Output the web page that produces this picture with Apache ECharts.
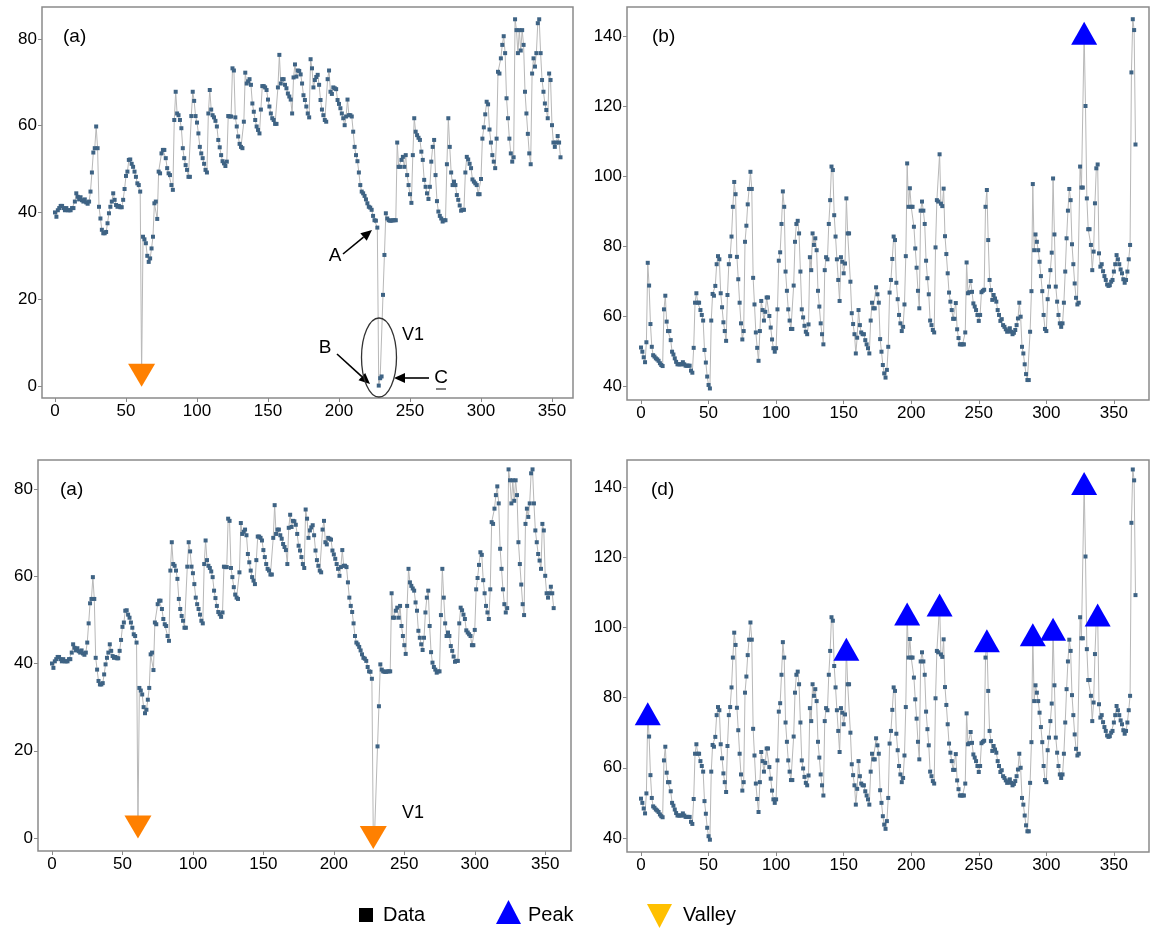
<!DOCTYPE html>
<html>
<head>
<meta charset="utf-8">
<script src="https://cdn.jsdelivr.net/npm/echarts@6/dist/echarts.min.js"></script>
<style>
    html, body { margin: 0; padding: 0; background: #fff; }
    #chart { width: 1154px; height: 929px; }
</style>
</head>
<body>
<div id="chart"></div>
<script>
// series shown in (a) panels, one value per day
var dataA = [
    40, 39, 40.5, 41, 41.5, 41.5, 41, 40.5, 41, 40.5,
    40.5, 40.5, 41, 41, 42.5, 44.4, 43.6, 43, 43.5, 42.8,
    42.5, 43, 42.3, 42, 42.5, 44.8, 49.2, 53.8, 54.8, 59.8,
    54.8, 41.3, 38.6, 36, 35.2, 35.2, 35.5, 37.5, 39.8, 41.3,
    42.5, 44.4, 42.9, 41.7, 41.3, 41.5, 41.2, 41.2, 42.9, 45.4,
    48.4, 49.4, 52.1, 52.2, 51.2, 50.5, 49.4, 48.2, 46.7, 46.3,
    44.8, 2.5, 34.4, 33.8, 32.9, 30, 28.6, 29.4, 31.7, 34.4,
    42.1, 42.5, 38.5, 49.4, 49, 53.6, 54.4, 54.4, 52.5, 50.2,
    49, 48.6, 46.3, 45.2, 61.3, 67.8, 62.8, 62.4, 61.3, 59.4,
    54.8, 52.5, 50.9, 49.8, 48.2, 48.2, 62.2, 67.8, 65.7, 62.2,
    60.7, 58.2, 55.1, 53.6, 52.5, 51.2, 49.8, 49.2, 62.8, 68.2,
    63.7, 62.4, 61.9, 61.1, 59.8, 56.7, 55, 53.2, 51.8, 51.3,
    50.7, 51.7, 62.2, 62.1, 62.1, 73.2, 72.7, 61.9, 59.8, 57.5,
    55.8, 55.1, 54.8, 60.9, 72.2, 69.7, 70.2, 70.7, 69.4, 65.1,
    63.2, 61.3, 59.8, 59, 58.2, 63.7, 69.1, 69.1, 68.8, 68.2,
    66, 64.4, 62.8, 61.7, 61.3, 60.4, 60.4, 68.8, 76.3, 69.7,
    70.7, 70.7, 69.4, 68.6, 67.4, 66.7, 66, 62.8, 71.1, 74.1,
    71.3, 72.7, 72.6, 71.8, 69.7, 67, 65.9, 64.4, 62.8, 61.9,
    75.3, 73.2, 68.8, 70.5, 71.2, 71.7, 69.4, 65.9, 63.7, 62.4,
    61.3, 60.9, 70.7, 72.7, 67.8, 67.3, 68.8, 68.6, 68.4, 65.9,
    65, 64, 62.8, 61.7, 60.1, 62.1, 66, 62.4, 62.4, 62.1,
    58.6, 55.1, 53.2, 51.8, 49.2, 46.3, 44.8, 44.4, 43.8, 43,
    42.1, 41.3, 41.1, 40.6, 39.2, 38.2, 38.1, 36.5, 0.1, 1.8,
    2.2, 21, 30.2, 39.8, 38.6, 38.2, 38.1, 38.1, 38.2, 38.2,
    38.2, 56.1, 50.5, 50.5, 52.1, 52.8, 50.5, 53.2, 48.6, 46.3,
    44.2, 42.2, 53.2, 61.7, 58.6, 57.8, 57.2, 56.7, 54, 52.1,
    47.5, 45.9, 44.4, 43.1, 45.9, 51.7, 55.1, 56.7, 48.6, 42.6,
    40.2, 39.2, 38.6, 37.9, 38.2, 38.2, 51.1, 61.7, 55.1, 49.2,
    46.3, 47.1, 46.3, 44, 42.9, 41.6, 40.4, 40.6, 40.6, 49.2,
    52.8, 52.2, 51.2, 50.2, 47.6, 47.1, 46.7, 46.3, 44.2, 44.2,
    47.7, 57, 59.6, 62.6, 65.5, 64.9, 59.1, 56.1, 53.2, 51.7,
    50.2, 57, 72.4, 72, 75.5, 78.6, 80.6, 76.7, 66.3, 61.7,
    57, 53.6, 51.7, 52.7, 84.5, 82, 76.7, 82, 77.3, 82,
    78.6, 67.8, 62.8, 58.1, 53.6, 51.1, 72, 75.5, 73.6, 76.7,
    83.6, 84.5, 76.7, 70.5, 67.8, 65.1, 63.6, 61.7, 72, 70.5,
    60.1, 56.1, 55.1, 56.1, 57.6, 56.1, 52.7
];

// series shown in (b) and (d) panels
var dataB = [
    51.2, 50, 48.4, 47, 52.7, 75.4, 68.9, 57.9, 51.4, 49,
    48.6, 48.1, 47.8, 47.4, 46.7, 46.2, 45.9, 62.1, 66, 58.6,
    55.9, 55.9, 53.3, 50, 49.2, 48.1, 47.1, 46.4, 46.4, 46.4,
    46.4, 47, 46.4, 46, 46, 46, 46, 44.6, 44, 51.1,
    64, 66.7, 64, 64, 61.9, 60.5, 58.9, 50.5, 46.9, 42.9,
    40.5, 39.5, 58.9, 66.5, 66, 68.8, 75, 77.3, 76.4, 66.7,
    62.7, 58.4, 55.9, 53.1, 66.2, 75, 77.3, 82.9, 91.4, 98.5,
    95, 77.1, 70.7, 64, 58.1, 53.5, 55.9, 81.4, 86, 92.1,
    96.5, 101.4, 96.5, 71.1, 63.5, 55.5, 51.1, 47.4, 55.9, 64.5,
    61.9, 58.9, 61.4, 65.5, 65.5, 60.2, 56.9, 53.5, 51, 50,
    51, 62.1, 76, 78.4, 86.5, 95.8, 91.4, 72.9, 67.4, 62.1,
    58.9, 56.5, 56.5, 68.9, 81.4, 86.5, 87.4, 83.8, 72.9, 62.1,
    59.8, 57.4, 55.7, 55, 57.8, 77, 73.3, 83.8, 80.5, 82.4,
    79, 67.4, 62.9, 58.1, 55, 52.1, 73.3, 77, 76.4, 86.5,
    93.3, 102.9, 101.9, 89, 82.9, 76.4, 70.5, 64.5, 77, 75.7,
    72.4, 75.2, 93.8, 83.8, 83.8, 70, 61, 57.9, 55, 49.5,
    54, 61.9, 57.6, 55.5, 55, 55, 53.3, 52.1, 51, 49.5,
    58.9, 64, 62.4, 62.4, 68.4, 66.4, 64, 53.6, 50, 46.2,
    43.8, 42.6, 44.8, 51.4, 66.9, 70.5, 76.5, 82.9, 81.9, 69.7,
    65, 60.5, 58.1, 55.9, 57.1, 63.5, 77.3, 103.8, 91.4, 96.7,
    91.4, 91.4, 85.7, 79.5, 74, 67.4, 62.4, 90.3, 92.9, 90.3,
    86.5, 76, 71, 66.4, 58.9, 57.6, 56.2, 55.5, 79.8, 93.3,
    92.9, 106.4, 92.3, 91.6, 96.6, 83, 77.9, 72.4, 66.9, 64.3,
    61.9, 59.4, 59.4, 63.9, 56.4, 53.9, 52.1, 52.1, 52.1, 52.1,
    55.5, 75.5, 66.7, 67, 70.2, 67.1, 63.8, 62.9, 61.9, 60.5,
    58.8, 60.5, 67, 67.4, 67.7, 91.4, 96.2, 81.9, 70.5, 67.6,
    64.8, 66.2, 65.2, 64.3, 61.9, 60.5, 58.8, 59.3, 57.6, 57.1,
    56.4, 55.7, 55.9, 56.7, 55.7, 55, 55.4, 56.2, 57.6, 59.5,
    64, 60, 51.4, 49.5, 46.4, 43.6, 41.9, 41.9, 55.7, 67.3,
    97.9, 79, 83.5, 81.4, 79, 75.7, 71.6, 67.3, 60.5, 56.5,
    55.9, 65, 68.6, 73.3, 78.3, 99.5, 83.5, 68.6, 64.3, 60.5,
    58.1, 57.1, 58.1, 64, 72.9, 82.4, 90.3, 96.5, 93.3, 80.7,
    75, 69.5, 65.4, 63.5, 64, 102.9, 96.9, 96.9, 141, 120.2,
    93.8, 85, 85, 80.5, 73.3, 78.6, 92.4, 102.4, 103.5, 78.1,
    74.3, 75, 73, 71.6, 70.5, 69.2, 68.8, 69, 70, 70.5,
    72.9, 75, 77.6, 76.4, 75, 73.5, 72.4, 70.7, 69.7, 70.5,
    72.9, 76.4, 80.5, 129.8, 145, 141.9, 109.2
];

// indices of marked points
var valleysTop = [61];
var valleysBottom = [61, 228];
var peaksTop = [328];
var peaksBottom = [5, 152, 197, 221, 256, 290, 305, 328, 338];

var xTicks = [0, 50, 100, 150, 200, 250, 300, 350];
var yTicksA = [0, 20, 40, 60, 80];
var yTicksB = [40, 60, 80, 100, 120, 140];

var fontFamily = '"Liberation Sans", Arial, Helvetica, sans-serif';
var frameColor = '#8a8a8a';
var pointColor = '#3e6384';
var lineColor = '#b8b8b8';
var peakColor = '#0000ff';
var valleyColor = '#ff8000';

var chart = echarts.init(document.getElementById('chart'));

function toPairs(arr) {
    return arr.map(function (v, i) { return [i, v]; });
}

function markPairs(idx, arr) {
    return idx.map(function (i) { return [i, arr[i]]; });
}

var panels = [
    { grid: { left: 42, top: 7, width: 531, height: 391 }, x: [-9.15, 364.8], y: [-2.76, 87.33], yTicks: yTicksA, data: dataA, peaks: [], valleys: valleysTop },
    { grid: { left: 627, top: 7, width: 522, height: 393 }, x: [-10.36, 376], y: [36.2, 148.49], yTicks: yTicksB, data: dataB, peaks: peaksTop, valleys: [] },
    { grid: { left: 38, top: 460, width: 533, height: 391 }, x: [-9.94, 368.3], y: [-2.98, 86.65], yTicks: yTicksA, data: dataA, peaks: [], valleys: valleysBottom },
    { grid: { left: 627, top: 460, width: 522, height: 392 }, x: [-10.36, 376], y: [36.0, 147.7], yTicks: yTicksB, data: dataB, peaks: peaksBottom, valleys: [] }
];

var grids = [], xAxes = [], yAxes = [], series = [];
panels.forEach(function (p, i) {
    grids.push(Object.assign({ show: true, borderColor: frameColor, borderWidth: 1.5, backgroundColor: 'transparent' }, p.grid));
    xAxes.push({
        type: 'value', gridIndex: i, min: p.x[0], max: p.x[1],
        axisLine: { show: false, onZero: false },
        axisTick: { show: true, customValues: xTicks, length: 4, lineStyle: { color: frameColor } },
        axisLabel: { customValues: xTicks, color: '#000', fontSize: 17, fontFamily: fontFamily, margin: 5 },
        splitLine: { show: false }
    });
    yAxes.push({
        type: 'value', gridIndex: i, min: p.y[0], max: p.y[1],
        axisLine: { show: false, onZero: false },
        axisTick: { show: true, customValues: p.yTicks, length: 4, lineStyle: { color: frameColor } },
        axisLabel: { customValues: p.yTicks, color: '#000', fontSize: 17, fontFamily: fontFamily, margin: 5 },
        splitLine: { show: false }
    });
    series.push({
        name: 'Data', type: 'line', xAxisIndex: i, yAxisIndex: i,
        data: toPairs(p.data),
        symbol: 'rect', symbolSize: 4, showSymbol: true, showAllSymbol: true,
        lineStyle: { color: lineColor, width: 1 },
        itemStyle: { color: pointColor },
        silent: true, z: 2
    });
    if (p.peaks.length) {
        series.push({
            name: 'Peak', type: 'scatter', xAxisIndex: i, yAxisIndex: i,
            data: markPairs(p.peaks, p.data),
            symbol: 'triangle', symbolSize: [26, 23],
            itemStyle: { color: peakColor, opacity: 1 }, silent: true, z: 4
        });
    }
    if (p.valleys.length) {
        series.push({
            name: 'Valley', type: 'scatter', xAxisIndex: i, yAxisIndex: i,
            data: markPairs(p.valleys, p.data),
            symbol: 'triangle', symbolRotate: 180, symbolSize: [27, 23],
            itemStyle: { color: valleyColor, opacity: 1 }, silent: true, z: 4
        });
    }
});

function label(text, x, y, size, align) {
    return {
        type: 'text', z: 100, silent: true,
        style: {
            text: text, x: x, y: y, fill: '#000',
            font: size + 'px ' + fontFamily,
            textAlign: align || 'center', align: align || 'center',
            textVerticalAlign: 'middle', verticalAlign: 'middle'
        }
    };
}

function arrow(x1, y1, x2, y2) {
    var dx = x2 - x1, dy = y2 - y1;
    var len = Math.sqrt(dx * dx + dy * dy);
    var ux = dx / len, uy = dy / len;
    var bx = x2 - ux * 11, by = y2 - uy * 11;
    return {
        type: 'group', z: 100, silent: true,
        children: [
            { type: 'line', shape: { x1: x1, y1: y1, x2: bx, y2: by }, style: { stroke: '#000', lineWidth: 1.6 } },
            { type: 'polygon', shape: { points: [[x2, y2], [bx - uy * 5, by + ux * 5], [bx + uy * 5, by - ux * 5]] }, style: { fill: '#000' } }
        ]
    };
}

var graphics = [
    label('(a)', 63, 37, 19, 'left'),
    label('(b)', 652, 37, 19, 'left'),
    label('(a)', 60, 490, 19, 'left'),
    label('(d)', 651, 490, 19, 'left'),

    // annotations on the first panel
    label('A', 335, 256, 19),
    arrow(343, 254, 372, 230),
    label('B', 325, 348, 19),
    arrow(337, 354, 370, 384),
    label('C', 441, 378, 19),
    { type: 'line', z: 100, silent: true, shape: { x1: 436, y1: 389, x2: 446, y2: 389 }, style: { stroke: '#000', lineWidth: 1 } },
    arrow(429, 378, 394, 378),
    { type: 'ellipse', z: 100, silent: true, shape: { cx: 379, cy: 357.5, rx: 17.5, ry: 39.5 }, style: { fill: 'none', stroke: '#333', lineWidth: 1.3 } },
    label('V1', 413, 335, 18),
    label('V1', 413, 813, 18),

    // legend
    { type: 'rect', silent: true, shape: { x: 359, y: 908, width: 14, height: 14 }, style: { fill: '#000' } },
    label('Data', 383, 915, 20, 'left'),
    { type: 'polygon', silent: true, shape: { points: [[508.5, 900], [521, 924], [496, 924]] }, style: { fill: peakColor } },
    label('Peak', 528, 915, 20, 'left'),
    { type: 'polygon', silent: true, shape: { points: [[647, 904], [672, 904], [659.5, 928]] }, style: { fill: '#ffc000' } },
    label('Valley', 683, 915, 20, 'left')
];

chart.setOption({
    animation: false,
    backgroundColor: '#fff',
    textStyle: { fontFamily: fontFamily },
    grid: grids,
    xAxis: xAxes,
    yAxis: yAxes,
    series: series,
    graphic: graphics
});
</script>
</body>
</html>
